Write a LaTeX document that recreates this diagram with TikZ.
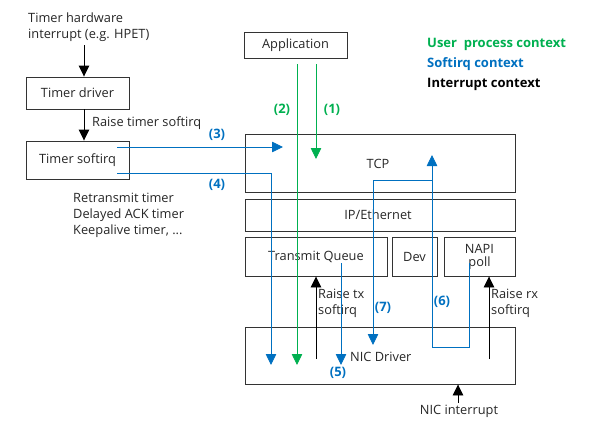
\documentclass[tikz,border=0pt]{standalone}
\usepackage{fontspec}
\setmainfont{Open Sans}
\usetikzlibrary{arrows.meta}
\definecolor{ugreen}{RGB}{0,176,80}
\definecolor{sblue}{RGB}{0,112,192}
\begin{document}
\begin{tikzpicture}[x=1pt,y=-1pt,
  box/.style={draw=black!80,line width=0.9pt,inner sep=0pt},
  txt/.style={font=\fontsize{12.8}{16}\selectfont,inner sep=0pt,text=black!85},
  lbl/.style={font=\fontsize{13}{16}\selectfont\bfseries,inner sep=0pt},
  tip/.style={-{Triangle[length=11pt,width=10.5pt]}},
  gline/.style={draw=ugreen,line width=0.8pt},
  bline/.style={draw=sblue,line width=0.8pt},
  kline/.style={draw=black,line width=0.9pt}]
\useasboundingbox (0,0) rectangle (592,431);
% boxes
\node[box,minimum width=103pt,minimum height=26pt,txt] (app) at (295.5,45) {Application};
\node[box,minimum width=103pt,minimum height=32pt,txt] (tdrv) at (77.5,93) {Timer driver};
\node[box,minimum width=103pt,minimum height=38pt,txt] (tsoft) at (77.5,160) {Timer softirq};
\node[box,minimum width=270pt,minimum height=58pt] (tcp) at (380,163) {};
\node[txt] (tcpt) at (378,164) {TCP};
\node[box,minimum width=270pt,minimum height=32pt] (ip) at (380,215) {};
\node[txt] (ipt) at (378,215) {IP/Ethernet};
\node[box,minimum width=142pt,minimum height=39pt,txt] (txq) at (316,256.5) {Transmit Queue};
\node[box,minimum width=45pt,minimum height=39pt,txt] (dev) at (414.5,256.5) {Dev};
\node[box,minimum width=71pt,minimum height=39pt,txt,align=center] (napi) at (479.5,256.5) {NAPI\\[-3pt]poll};
\node[box,minimum width=270pt,minimum height=57pt] (nic) at (380,355.5) {};
\node[txt,anchor=west] (nict) at (350,357) {NIC Driver};
% texts
\node[txt,anchor=west,align=left] (hw) at (28,27) {Timer hardware\\interrupt (e.g. HPET)};
\node[txt,anchor=west] (rts) at (92,123) {Raise timer softirq};
\node[txt,anchor=west,align=left] (tlist) at (73,215) {Retransmit timer\\Delayed ACK timer\\Keepalive timer, ...};
\node[txt,anchor=west,align=left] (rtx) at (318,303) {Raise tx\\softirq};
\node[txt,anchor=west,align=left] (rrx) at (491,303) {Raise rx\\softirq};
\node[txt] (nicint) at (459,411) {NIC interrupt};
\node[lbl,anchor=west,text=ugreen] (lg1) at (427,44) {User\ \ process\ context};
\node[lbl,anchor=west,text=sblue] (lg2) at (427,64) {Softirq context};
\node[lbl,anchor=west,text=black] (lg3) at (427,84) {Interrupt context};
\node[lbl,text=ugreen] (l1) at (332,110) {(1)};
\node[lbl,text=ugreen] (l2) at (282,110) {(2)};
\node[lbl,text=sblue] (l3) at (217,135) {(3)};
\node[lbl,text=sblue] (l4) at (217,185) {(4)};
\node[lbl,text=sblue] (l5) at (338,373) {(5)};
\node[lbl,text=sblue] (l6) at (442,302) {(6)};
\node[lbl,text=sblue] (l7) at (383,308) {(7)};
% coordinates
\coordinate (hwb) at (84,45);
\coordinate (drvb) at (84,109);
\coordinate (s3) at (117,147); \coordinate (e3) at (283,147);
\coordinate (s4) at (117,173); \coordinate (c4) at (271,173); \coordinate (e4) at (271,365);
\coordinate (s2) at (297,64); \coordinate (e2) at (297,365);
\coordinate (s1) at (316,64); \coordinate (e1) at (316,159);
\coordinate (stx) at (316,359);
\coordinate (s5) at (341,263); \coordinate (e5) at (341,365);
\coordinate (s7) at (432,180); \coordinate (c7) at (373,180); \coordinate (e7) at (373,345);
\coordinate (s6) at (469,263); \coordinate (c6a) at (469,347); \coordinate (c6b) at (432,347); \coordinate (e6) at (432,155);
\coordinate (srx) at (489,359);
\coordinate (sint) at (458,403);
% connectors
\draw[kline,tip] (hwb) -- (hwb |- tdrv.north);
\draw[kline,tip] (drvb) -- (drvb |- tsoft.north);
\draw[bline,tip,sblue] (s3) -- (e3);
\draw[bline,tip,sblue] (s4) -- (c4) -- (e4);
\draw[gline,tip,ugreen] (s2) -- (e2);
\draw[gline,tip,ugreen] (s1) -- (e1);
\draw[kline,tip] (stx) -- (stx |- txq.south);
\draw[bline,tip,sblue] (s5) -- (e5);
\draw[bline,tip,sblue] (s7) -- (c7) -- (e7);
\draw[bline,tip,sblue] (s6) -- (c6a) -- (c6b) -- (e6);
\draw[kline,tip] (srx) -- (srx |- napi.south);
\draw[kline,tip] (sint) -- (sint |- nic.south);
\end{tikzpicture}
\end{document}
